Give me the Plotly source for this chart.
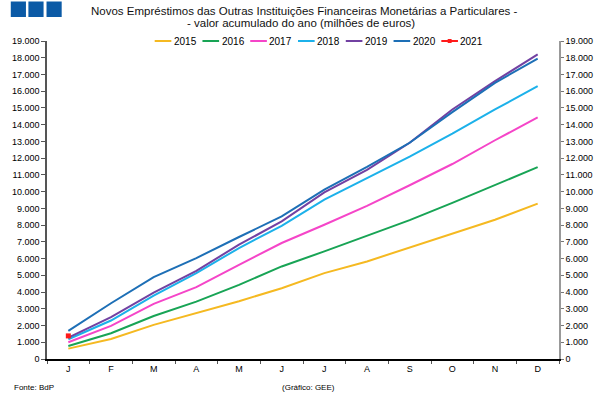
import plotly.graph_objects as go

months = ["Jan", "Fev", "Mar", "Abr", "Mai", "Jun", "Jul", "Ago", "Set", "Out", "Nov", "Dez"]
tick_labels = ["J", "F", "M", "A", "M", "J", "J", "A", "S", "O", "N", "D"]

y2015 = [620, 1200, 2040, 2740, 3450, 4230, 5130, 5830, 6660, 7500, 8320, 9280]
y2016 = [780, 1540, 2570, 3430, 4430, 5530, 6430, 7350, 8300, 9330, 10380, 11460]
y2017 = [1000, 1980, 3290, 4290, 5630, 6930, 8020, 9150, 10380, 11650, 13070, 14430]
y2018 = [1180, 2300, 3790, 5130, 6630, 7960, 9520, 10810, 12090, 13460, 14910, 16300]
y2019 = [1280, 2500, 3970, 5270, 6830, 8220, 9960, 11300, 12920, 14910, 16600, 18200]
y2020 = [1680, 3330, 4890, 6030, 7290, 8520, 10120, 11480, 12920, 14750, 16500, 17950]
y2021 = [1380]

series = [
    ("2015", y2015, "#F5B921"),
    ("2016", y2016, "#18A455"),
    ("2017", y2017, "#F545C8"),
    ("2018", y2018, "#1CB1EA"),
    ("2019", y2019, "#7241A2"),
    ("2020", y2020, "#1D6FB6"),
    ("2021", y2021, "#FF1A1A"),
]

FONT = "Liberation Sans, Arial, sans-serif"

fig = go.Figure()
for name, vals, col in series:
    is_marker = name == "2021"
    fig.add_trace(go.Scatter(x=months[:len(vals)], y=vals, name=name,
                             mode="lines+markers" if is_marker else "lines",
                             line=dict(color=col, width=2),
                             marker=dict(color=col, size=5, symbol="square"),
                             showlegend=False))
# invisible trace for right axis
fig.add_trace(go.Scatter(x=months, y=y2015, yaxis="y2", mode="lines", showlegend=False,
                         hoverinfo="skip", line=dict(color="rgba(0,0,0,0)")))

yticks = list(range(0, 19001, 1000))

fig.update_layout(
    width=605, height=397,
    margin=dict(l=40, r=42, t=41, b=38),
    paper_bgcolor="white", plot_bgcolor="white",
    separators=",.",
    font=dict(family=FONT, size=9, color="black"),
    showlegend=False,
    xaxis=dict(type="category", categoryorder="array", categoryarray=months,
               tickvals=months, ticktext=tick_labels, tickson="boundaries",
               ticks="outside", ticklen=3, tickcolor="#555",
               showline=True, linecolor="black", linewidth=1.5,
               showgrid=False, zeroline=False, range=[-0.5, 11.5],
               tickfont=dict(size=9, family=FONT)),
    yaxis=dict(range=[0, 19000], tickvals=yticks, tickformat=",d",
               ticks="outside", ticklen=4, tickcolor="#555",
               showline=True, linecolor="#555", linewidth=1.5,
               showgrid=False, zeroline=False, tickfont=dict(size=9, family=FONT)),
    yaxis2=dict(range=[0, 19000], tickvals=yticks, tickformat=",d", overlaying="y", side="right",
                ticks="outside", ticklen=3, tickcolor="#777",
                showline=True, linecolor="#999", linewidth=1.5,
                showgrid=False, zeroline=False, tickfont=dict(size=9, family=FONT)),
)

def px2paper_x(px):
    return (px - 40) / 523.0

def px2paper_y(py):
    return (359 - py) / 318.0

# decorative blue squares top-left
for x0 in (3, 21, 39.5):
    fig.add_shape(type="rect", xref="paper", yref="paper",
                  x0=px2paper_x(x0), x1=px2paper_x(x0 + 15.5),
                  y0=px2paper_y(17), y1=px2paper_y(1.5),
                  fillcolor="#0B5AA6", line=dict(width=0))

# title (two lines)
fig.add_annotation(text="Novos Empréstimos das Outras Instituições Financeiras Monetárias a Particulares -",
                   xref="paper", yref="paper", x=px2paper_x(303), y=px2paper_y(11),
                   xanchor="center", yanchor="middle", showarrow=False,
                   font=dict(size=11.5, family=FONT, color="#111"))
fig.add_annotation(text="- valor acumulado do ano (milhões de euros)",
                   xref="paper", yref="paper", x=px2paper_x(299), y=px2paper_y(23.5),
                   xanchor="center", yanchor="middle", showarrow=False,
                   font=dict(size=11.5, family=FONT, color="#111"))

# compact legend
leg_start, leg_pitch, leg_y = 150, 48.8, 41
for i, (name, vals, col) in enumerate(series):
    lx = leg_start + i * leg_pitch
    fig.add_shape(type="line", xref="paper", yref="paper",
                  x0=px2paper_x(lx), x1=px2paper_x(lx + 17),
                  y0=px2paper_y(leg_y), y1=px2paper_y(leg_y),
                  line=dict(color=col, width=2))
    if name == "2021":
        fig.add_shape(type="rect", xref="paper", yref="paper",
                      x0=px2paper_x(lx + 6.5), x1=px2paper_x(lx + 10.5),
                      y0=px2paper_y(leg_y + 2), y1=px2paper_y(leg_y - 2),
                      fillcolor=col, line=dict(width=0))
    fig.add_annotation(text=name, xref="paper", yref="paper",
                       x=px2paper_x(lx + 18.5), y=px2paper_y(leg_y),
                       xanchor="left", yanchor="middle", showarrow=False,
                       font=dict(size=10, family=FONT), borderpad=0)

fig.add_annotation(text="Fonte: BdP", xref="paper", yref="paper",
                   x=px2paper_x(5), y=px2paper_y(387), xanchor="left", yanchor="middle",
                   showarrow=False, font=dict(size=8, family=FONT), borderpad=0)
fig.add_annotation(text="(Gráfico: GEE)", xref="paper", yref="paper",
                   x=px2paper_x(307), y=px2paper_y(387), xanchor="center", yanchor="middle",
                   showarrow=False, font=dict(size=8, family=FONT), borderpad=0)

fig.write_html("out.html", config={"displayModeBar": False},
               post_script="document.body.style.margin='0px';document.body.style.overflow='hidden';")
